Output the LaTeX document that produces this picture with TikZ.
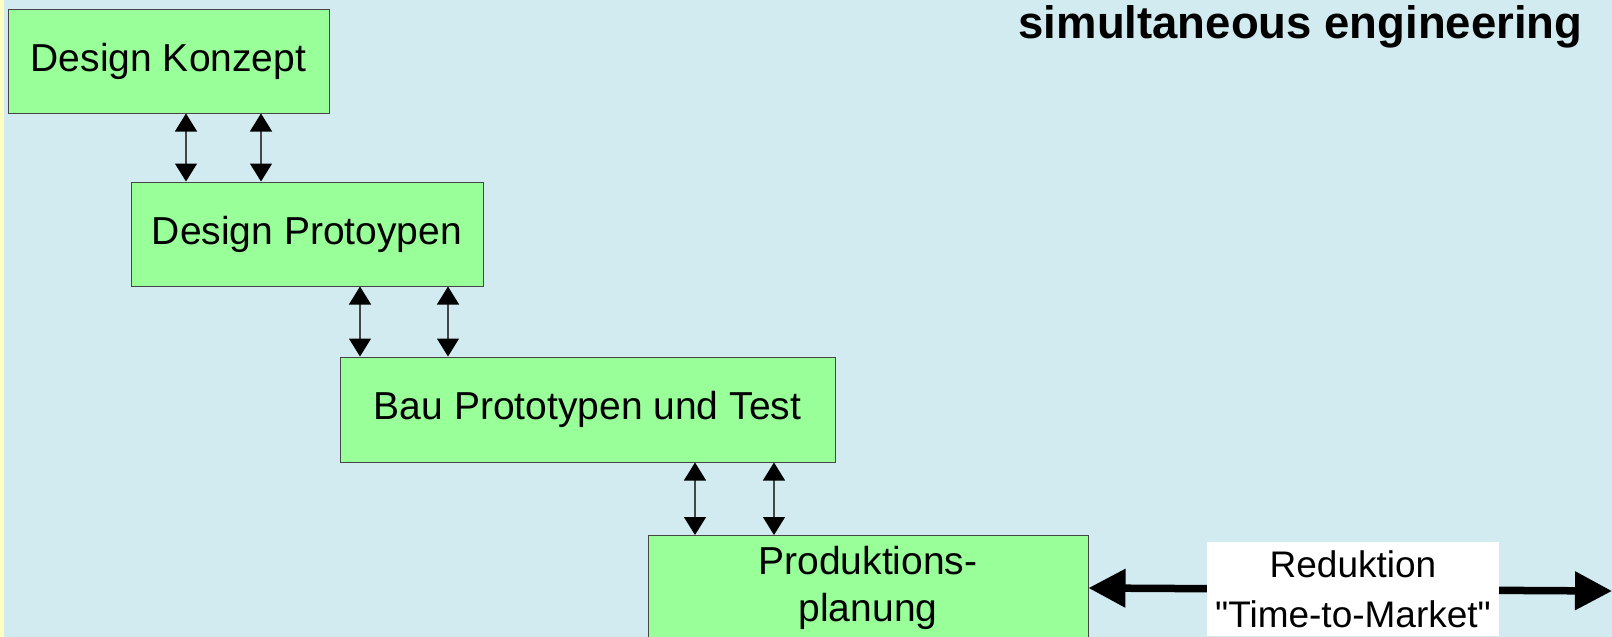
\documentclass[tikz,border=0pt]{standalone}
\usepackage{fontspec}
\setmainfont{Liberation Sans}
\newfontfamily\rawsans[Ligatures=TeXOff]{Liberation Sans}
\usetikzlibrary{arrows.meta}
\definecolor{bgblue}{RGB}{210,235,240}
\definecolor{stripyellow}{RGB}{255,255,192}
\definecolor{boxgreen}{RGB}{153,255,153}
\definecolor{edgegray}{RGB}{70,70,70}
\tikzset{
  stage/.style={draw=edgegray, line width=1pt, fill=boxgreen, inner sep=0pt, align=center,
    font=\fontsize{39}{47}\selectfont},
  dbl/.style={draw=edgegray, line width=1.2pt,
    {Triangle[width=22pt,length=18pt,color=black]}-{Triangle[width=22pt,length=18pt,color=black]}},
  thick arrow/.style={draw=black, line width=7.5pt,
    {Triangle[width=37pt,length=37pt]}-{Triangle[width=37pt,length=37pt]}},
  labelbox/.style={fill=white, inner sep=0pt, align=center, font=\rawsans\fontsize{37}{50}\selectfont},
}
\begin{document}
\begin{tikzpicture}[x=1pt,y=-1pt]
\useasboundingbox (0,0) rectangle (1612,637);
\clip (0,0) rectangle (1612,637);
\fill[bgblue] (0,0) rectangle (1612,637);
\fill[stripyellow] (0,0) rectangle (4,637);

\node[stage, minimum width=321pt, minimum height=104pt] (b1) at (168.5,61) {Design Konzept};
\node[stage, minimum width=352pt, minimum height=104pt] (b2) at (307,234) {Design Protoypen};
\node[stage, minimum width=495pt, minimum height=105pt] (b3) at (587.5,409.5) {Bau Prototypen und Test};
\node[stage, minimum width=440pt, minimum height=105pt] (b4) at (868,588) {Produktions-\\planung};

\node[anchor=base east, font=\fontsize{45.5}{54}\selectfont\bfseries] (title) at (1586,38) {simultaneous engineering};

\draw[dbl] (b1.south -| 186,0) -- (b2.north -| 186,0);
\draw[dbl] (b1.south -| 261,0) -- (b2.north -| 261,0);
\draw[dbl] (b2.south -| 360,0) -- (b3.north -| 360,0);
\draw[dbl] (b2.south -| 448,0) -- (b3.north -| 448,0);
\draw[dbl] (b3.south -| 695,0) -- (b4.north -| 695,0);
\draw[dbl] (b3.south -| 774,0) -- (b4.north -| 774,0);

\coordinate (rt) at (1612,591);
\draw[thick arrow] (b4.east) -- (rt);
\node[labelbox, minimum width=292pt, minimum height=94pt] (lab) at (1353,589) {Reduktion\\"Time-to-Market"};
\end{tikzpicture}
\end{document}
